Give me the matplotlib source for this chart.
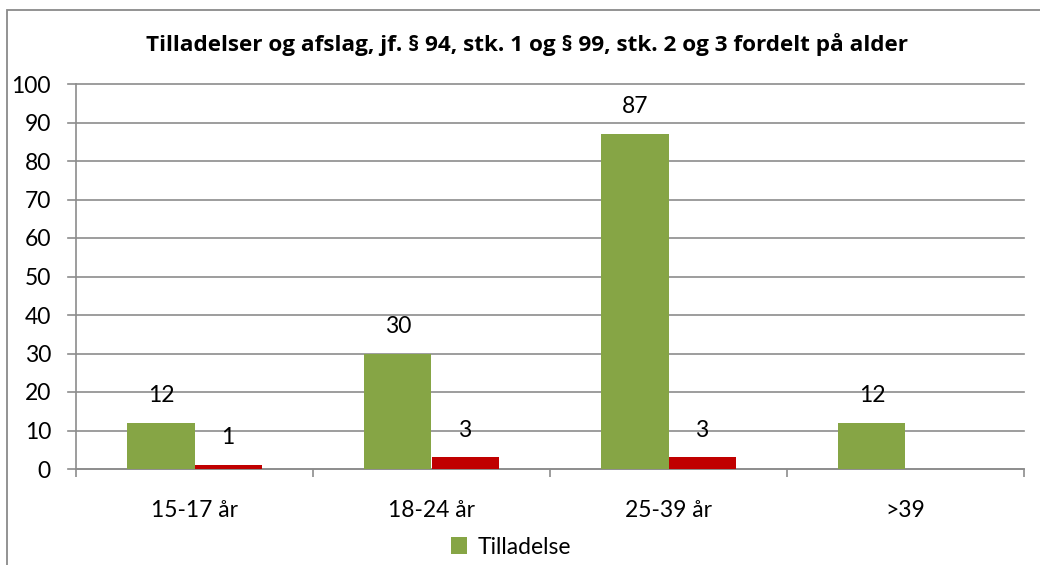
import numpy as np
import matplotlib
matplotlib.use("Agg")
import matplotlib.pyplot as plt
from matplotlib.patches import Rectangle

categories = ["15-17 år", "18-24 år", "25-39 år", ">39"]
tilladelse = [12, 30, 87, 12]
afslag = [1, 3, 3, np.nan]
series_names = ["Tilladelse", "Afslag"]
title = "Tilladelser og afslag, jf. § 94, stk. 1 og § 99, stk. 2 og 3 fordelt på alder"
yticks = list(range(0, 101, 10))

GREEN = "#86A545"
RED = "#C00000"
GRID = "#8C8C8C"

plt.rcParams["font.family"] = ["Lato", "DejaVu Sans"]

W, H = 1040, 565
fig = plt.figure(figsize=(W / 100, H / 100), dpi=100)

# chart frame (extends beyond image on right and bottom)
fig.patches.append(Rectangle((7 / W, -0.05), 1.2, 1 - 10 / H + 0.05,
                             transform=fig.transFigure, fill=False,
                             edgecolor="#8A8A8A", linewidth=1.3))

left, right, top, bottom = 76, 1024, 84, 469
ax = fig.add_axes([left / W, 1 - bottom / H, (right - left) / W, (bottom - top) / H])

x = np.arange(len(categories))
bw = 0.283
b1 = ax.bar(x - bw / 2, tilladelse, bw, color=GREEN, label=series_names[0], zorder=3)
b2 = ax.bar(x + bw / 2, afslag, bw, color=RED, label=series_names[1], zorder=3)

ax.bar_label(b1, labels=[f"{v:g}" for v in tilladelse], padding=12, fontsize=16.5)
ax.bar_label(b2, labels=["" if np.isnan(v) else f"{v:g}" for v in afslag], padding=12, fontsize=16.5)

ax.set_xlim(-0.5, len(categories) - 0.5)
ax.set_ylim(0, 100)
ax.set_yticks(yticks)
ax.set_yticklabels([str(t) for t in yticks])
for t in yticks:
    ax.plot([-0.5 - 8 / 237, len(categories) - 0.5], [t, t], color=GRID, lw=1.2,
            zorder=1, clip_on=False)

ax.set_xticks(np.arange(-0.5, len(categories), 1), minor=True)
ax.set_xticks(x)
ax.set_xticklabels(categories)
ax.tick_params(axis="x", which="major", length=0, pad=22, labelsize=16.5)
ax.tick_params(axis="x", which="minor", length=6, width=1.2, color=GRID, direction="out")
ax.tick_params(axis="y", length=0, pad=18, labelsize=16.5)

for s in ["top", "right"]:
    ax.spines[s].set_visible(False)
for s in ["bottom", "left"]:
    ax.spines[s].set_color(GRID)
    ax.spines[s].set_linewidth(1.2)

fig.text(527 / W, 1 - 45 / H, title, ha="center", va="center", fontsize=16.2,
         fontweight="bold", family=["Open Sans", "DejaVu Sans"])

fig.legend(handles=[b1], labels=[series_names[0]], loc="center",
           bbox_to_anchor=(511 / W, 1 - 547 / H), frameon=False, fontsize=16.5,
           handlelength=0.7, handleheight=0.7, handletextpad=0.5)

fig.savefig("out.png", dpi=100)
